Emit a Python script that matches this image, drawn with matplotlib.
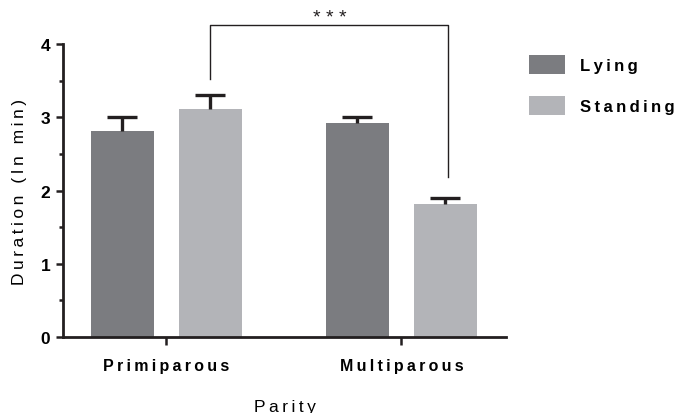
import numpy as np
import matplotlib
matplotlib.use("Agg")
import matplotlib.pyplot as plt
from matplotlib.ticker import MultipleLocator

plt.rcParams['font.family'] = ['Liberation Sans', 'DejaVu Sans']
plt.rcParams['font.weight'] = 'bold'

# data
groups = ['Primiparous', 'Multiparous']
lying = [2.82, 2.92]
lying_err = [0.18, 0.08]
standing = [3.12, 1.82]
standing_err = [0.18, 0.08]

def spaced(s, sp='\u2009'):
    # wide letter spacing like the original figure
    return sp.join(s)

dark = '#7b7c80'
light = '#b3b4b8'
ink = '#231f20'

fig = plt.figure(figsize=(6.8, 4.14), dpi=100)
ax = fig.add_axes([0.0926, 0.1836, 0.6514, 0.7074])

x = np.arange(len(groups))
w = 0.268
off = 0.187

ax.bar(x - off, lying, w, color=dark, label=spaced('Lying'))
ax.bar(x + off, standing, w, color=light, label=spaced('Standing'))
for xs, vals, errs in [(x - off, lying, lying_err), (x + off, standing, standing_err)]:
    eb = ax.errorbar(xs, vals, yerr=[np.zeros(2), errs], fmt='none',
                     ecolor=ink, elinewidth=2.4, capsize=10.5, capthick=2.4)
    eb[1][0].set_visible(False)  # no cap at the bar top

# significance bracket
bx = [off, off, 1.2, 1.2]
by = [3.52, 4.26, 4.26, 2.19]
ax.plot(bx, by, color=ink, lw=1.0, clip_on=False)
ax.text((off + 1.2) / 2, 4.37, '* * *', ha='center', va='center', fontsize=14,
        fontweight='normal', color=ink)

ax.set_xlim(-0.44, 1.445)
ax.set_ylim(0, 4)
ax.yaxis.set_major_locator(MultipleLocator(1))
ax.yaxis.set_minor_locator(MultipleLocator(0.5))
ax.set_xticks(x)
ax.set_xticklabels([spaced(g) for g in groups], fontsize=11.5)
ax.tick_params(axis='y', labelsize=12.5, width=1.8, length=5, color=ink, pad=4)
ax.tick_params(axis='y', which='minor', width=1.8, length=3, color=ink)
ax.tick_params(axis='x', width=1.8, length=6, color=ink, pad=9)
for s in ['top', 'right']:
    ax.spines[s].set_visible(False)
for s in ['left', 'bottom']:
    ax.spines[s].set_linewidth(2.0)
    ax.spines[s].set_color(ink)

ax.set_ylabel(spaced('Duration (In min)'), fontsize=12.5, labelpad=10)
ax.set_xlabel(spaced('Parity'), fontsize=12.5, labelpad=19)

leg = ax.legend(loc='upper left', bbox_to_anchor=(529 / 680, 1 - 56 / 414),
                bbox_transform=fig.transFigure, frameon=False,
                fontsize=12, handlelength=2.16, handleheight=1.35, labelspacing=1.35,
                handletextpad=0.9, borderaxespad=0, borderpad=0)

fig.savefig('out.png', dpi=100)
